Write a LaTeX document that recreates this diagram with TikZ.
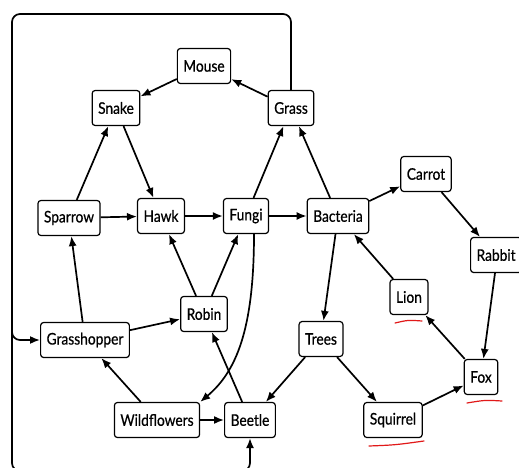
\documentclass[tikz,border=0pt]{standalone}
\usepackage{fontspec}
\setmainfont{Lato}[FakeStretch=0.86, FakeBold=0.6]
\usetikzlibrary{arrows.meta}
\definecolor{penred}{RGB}{225,25,25}
\tikzset{
  sp/.style={draw=black, rounded corners=3pt, line width=1.2pt, fill=white,
             font=\fontsize{16}{18}\selectfont, inner xsep=6pt, minimum height=35pt},
  sa/.style={-{Latex[length=10pt,width=8pt]}, line width=1.7pt},
  pen/.style={penred, line width=1.2pt, line cap=round}
}
\begin{document}
\begin{tikzpicture}[x=1pt,y=-1pt]
  \useasboundingbox (0,0) rectangle (519,468);
  \node[sp] (mouse) at (204,66) {Mouse};
  \node[sp] (snake) at (116,108) {Snake};
  \node[sp] (grass) at (291,108) {Grass};
  \node[sp] (sparrow) at (69,218) {Sparrow};
  \node[sp] (hawk) at (161,216) {Hawk};
  \node[sp] (fungi) at (246,216) {Fungi};
  \node[sp] (bacteria) at (338,216) {Bacteria};
  \node[sp] (carrot) at (426,174) {Carrot};
  \node[sp, anchor=west] (rabbit) at (470,255) {Rabbit};
  \node[sp] (lion) at (409,297) {Lion};
  \node[sp] (grasshopper) at (85,340) {Grasshopper};
  \node[sp] (robin) at (204,314) {Robin};
  \node[sp] (trees) at (321,339) {Trees};
  \node[sp] (fox) at (481,377) {Fox};
  \node[sp] (wildflowers) at (157,420) {Wildflowers};
  \node[sp] (beetle) at (250,420) {Beetle};
  \node[sp] (squirrel) at (393,420) {Squirrel};
  \draw[sa] (mouse)--(snake); \draw[sa] (grass)--(mouse);
  \draw[sa] (sparrow)--(snake); \draw[sa] (snake)--(hawk);
  \draw[sa] (fungi)--(grass); \draw[sa] (bacteria)--(grass);
  \draw[sa] (sparrow)--(hawk); \draw[sa] (hawk)--(fungi);
  \draw[sa] (fungi)--(bacteria); \draw[sa] (bacteria)--(carrot);
  \draw[sa] (carrot)--([xshift=10pt]rabbit.north west); \draw[sa] ([xshift=25pt]rabbit.south west)--(fox);
  \draw[sa] (fox)--(lion); \draw[sa] (lion)--(bacteria);
  \draw[sa] (bacteria)--(trees); \draw[sa] (trees)--(squirrel);
  \draw[sa] (trees)--(beetle); \draw[sa] (squirrel)--(fox);
  \draw[sa] (grasshopper)--(sparrow); \draw[sa] (grasshopper)--(robin);
  \draw[sa] (robin)--(hawk); \draw[sa] (robin)--(fungi);
  \draw[sa] (wildflowers)--(grasshopper); \draw[sa] (wildflowers)--(beetle);
  \draw[sa] (beetle)--(robin);
  \draw[sa] ([xshift=8pt]fungi.south) .. controls (254,330) and (236,372) .. (wildflowers.north east);
  \draw[sa, rounded corners=8pt] (grass.north) -- (291,14) -- (12,14) -- (12,471) -- (250,471) -- (beetle.south);
  \draw[sa, rounded corners=8pt] (12,300) -- (12,340) -- (grasshopper.west);
  \draw[pen] (395,323) .. controls (408,320) .. (422,321);
  \draw[pen] (369,446) .. controls (395,445) .. (424,441);
  \draw[pen] (467,403) .. controls (485,400) .. (502,401);
\end{tikzpicture}
\end{document}
